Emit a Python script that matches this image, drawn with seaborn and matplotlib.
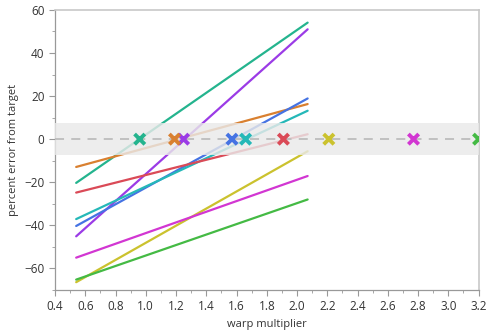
import matplotlib
matplotlib.use("Agg")
import matplotlib.pyplot as plt
from matplotlib.ticker import MultipleLocator
import seaborn as sns
import pandas as pd

# data
series_names = ["s1", "s2", "s3", "s4", "s5", "s6", "s7", "s8", "s9"]
colors = ["#24b48e", "#9b3be6", "#d98030", "#4573e3", "#25b8b8",
          "#da4a57", "#cbc22e", "#d236d2", "#44ba44"]
x_start = 0.54
x_end = 2.07
y_start = [-20.3, -45.1, -12.9, -40.3, -37.1, -24.8, -66.4, -55.0, -65.2]
y_end = [54.1, 51.0, 16.3, 18.9, 13.2, 2.3, -5.6, -17.1, -28.0]
zero_cross = [0.96, 1.25, 1.19, 1.57, 1.66, 1.91, 2.21, 2.77, 3.2]
band = 7.5

lines = pd.DataFrame({
    "warp": [x_start] * len(series_names) + [x_end] * len(series_names),
    "err": y_start + y_end,
    "series": series_names * 2,
})
marks = pd.DataFrame({"warp": zero_cross, "err": [0.0] * len(series_names),
                      "series": series_names})
palette = dict(zip(series_names, colors))

sns.set_style("white")
plt.rcParams["font.family"] = ["Open Sans", "DejaVu Sans"]

fig = plt.figure(figsize=(4.88, 3.31), dpi=100)
ax = fig.add_axes([0.1127, 0.124, 0.868, 0.846])

sns.lineplot(data=lines, x="warp", y="err", hue="series", palette=palette,
             linewidth=1.6, legend=False, ax=ax, zorder=2)

# tolerance band drawn over the lines so they fade inside it
ax.axhspan(-band, band, color="#e9e9e9", alpha=0.82, lw=0, zorder=3)
ax.axhline(0, color="#bdbdbd", lw=1.3, ls=(0, (5, 4)), zorder=4)

sns.scatterplot(data=marks, x="warp", y="err", hue="series", palette=palette,
                marker="x", s=55, linewidth=2.8, legend=False, ax=ax, zorder=5)

ax.set_xlim(0.4, 3.2)
ax.set_ylim(-70, 60)
ax.xaxis.set_major_locator(MultipleLocator(0.2))
ax.xaxis.set_minor_locator(MultipleLocator(0.1))
ax.yaxis.set_major_locator(MultipleLocator(20))
ax.yaxis.set_minor_locator(MultipleLocator(10))
ax.set_xticks([0.4 + 0.2 * i for i in range(15)])
ax.set_xticklabels([f"{0.4 + 0.2 * i:.1f}" for i in range(15)])

ax.tick_params(which="both", direction="out", color="#999999", labelsize=8.5,
               labelcolor="#333333", bottom=True, left=True)
ax.tick_params(which="major", length=4)
ax.tick_params(which="minor", length=2.5)

for side in ["left", "bottom"]:
    ax.spines[side].set_color("#999999")
    ax.spines[side].set_linewidth(0.9)
for side in ["top", "right"]:
    ax.spines[side].set_color("#c8c8c8")
    ax.spines[side].set_linewidth(1.2)

ax.set_xlabel("warp multiplier", fontsize=8, color="#333333", labelpad=4)
ax.set_ylabel("percent error from target", fontsize=8, color="#333333", labelpad=4)

fig.savefig("out.png", dpi=100)
